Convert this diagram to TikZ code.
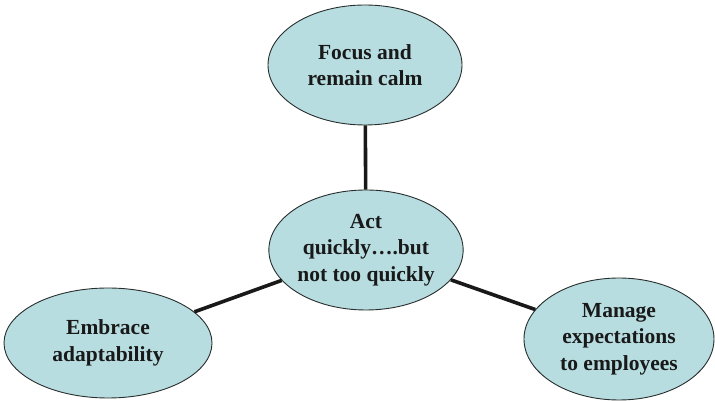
\documentclass[tikz,border=0pt]{standalone}
\usepackage{fontspec}
\setmainfont{Liberation Serif}
\usetikzlibrary{shapes.geometric}
\definecolor{bub}{RGB}{183,221,224}
\definecolor{edge}{RGB}{40,45,45}
\tikzset{
  bubble/.style={ellipse, draw=edge, line width=0.9pt, fill=bub, inner sep=0pt,
    align=center, font=\fontsize{21.5}{26.5}\selectfont\bfseries, text=black!90},
  link/.style={line width=3.6pt, black!90}
}
\begin{document}
\begin{tikzpicture}[x=1pt,y=1pt]
\useasboundingbox (0,0) rectangle (715,401);
\node[bubble, minimum width=194pt, minimum height=120pt] (top) at (365,336) {Focus and\\remain calm};
\node[bubble, minimum width=188pt, minimum height=120pt] (mid) at (366,151) {Act\\quickly\dots.but\\not too quickly};
\node[bubble, minimum width=208pt, minimum height=110pt] (left) at (108,58) {Embrace\\adaptability};
\node[bubble, minimum width=190pt, minimum height=122pt] (right) at (619,62) {Manage\\expectations\\to employees};
\draw[link] (mid) -- (top);
\draw[link] (mid) -- (left);
\draw[link] (mid) -- (right);
\end{tikzpicture}
\end{document}
